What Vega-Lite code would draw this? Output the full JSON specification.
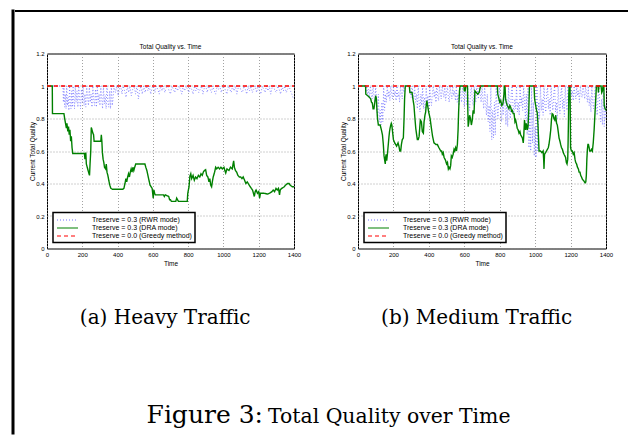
{
  "$schema": "https://vega.github.io/schema/vega-lite/v6.json",
  "padding": {"left": 11, "top": 9, "right": 0, "bottom": 0},
  "background": "white",
  "spacing": 0,
  "config": {
    "view": {"stroke": null},
    "font": "Liberation Sans",
    "axis": {"labelFont": "Liberation Sans", "labelFontSize": 6, "labelColor": "black", "titleFont": "Liberation Sans", "titleFontSize": 6.5, "titleFontWeight": "normal", "titleColor": "black", "domain": false, "ticks": false, "grid": true, "gridColor": "#8a8a8a", "gridDash": [1, 2], "gridWidth": 0.8, "labelFlush": false, "labelPadding": 3, "titlePadding": 3},
    "axisY": {"titlePadding": 0},
    "legend": {"title": null, "orient": "bottom-left", "offset": 6, "padding": 3, "fillColor": "white", "strokeColor": "black", "labelFont": "Liberation Sans", "labelFontSize": 7, "labelColor": "black", "labelAlign": "left", "symbolType": "M-1,0H5", "symbolSize": 49, "symbolStrokeWidth": 1.2, "labelOffset": 27, "rowPadding": 0},
    "title": {"fontWeight": "normal", "color": "black"}
  },
  "datasets": {
    "heavy": [
      {"t":0,"q":1,"s":"r"},{"t":90,"q":1,"s":"r"},{"t":93,"q":0.9,"s":"r"},{"t":96,"q":1,"s":"r"},{"t":100,"q":0.87,"s":"r"},{"t":104,"q":0.95,"s":"r"},{"t":108,"q":0.86,"s":"r"},{"t":112,"q":1,"s":"r"},{"t":116,"q":0.88,"s":"r"},{"t":120,"q":0.93,"s":"r"},{"t":124,"q":0.85,"s":"r"},{"t":128,"q":1,"s":"r"},{"t":132,"q":0.9,"s":"r"},{"t":136,"q":0.86,"s":"r"},{"t":140,"q":0.97,"s":"r"},{"t":144,"q":0.87,"s":"r"},{"t":148,"q":1,"s":"r"},{"t":152,"q":0.91,"s":"r"},{"t":156,"q":0.86,"s":"r"},{"t":160,"q":1,"s":"r"},{"t":165,"q":0.9,"s":"r"},{"t":170,"q":0.97,"s":"r"},{"t":175,"q":0.87,"s":"r"},{"t":180,"q":1,"s":"r"},{"t":185,"q":0.92,"s":"r"},{"t":190,"q":0.86,"s":"r"},{"t":195,"q":0.98,"s":"r"},{"t":200,"q":0.9,"s":"r"},{"t":205,"q":1,"s":"r"},{"t":210,"q":0.88,"s":"r"},{"t":215,"q":0.95,"s":"r"},{"t":220,"q":0.87,"s":"r"},{"t":225,"q":1,"s":"r"},{"t":230,"q":0.93,"s":"r"},{"t":235,"q":0.88,"s":"r"},{"t":240,"q":1,"s":"r"},{"t":245,"q":0.9,"s":"r"},{"t":250,"q":0.95,"s":"r"},{"t":255,"q":0.87,"s":"r"},{"t":260,"q":1,"s":"r"},{"t":265,"q":0.91,"s":"r"},{"t":270,"q":0.88,"s":"r"},{"t":275,"q":0.98,"s":"r"},{"t":280,"q":0.87,"s":"r"},{"t":285,"q":1,"s":"r"},{"t":290,"q":0.9,"s":"r"},{"t":295,"q":0.95,"s":"r"},{"t":300,"q":0.88,"s":"r"},{"t":305,"q":1,"s":"r"},{"t":310,"q":0.92,"s":"r"},{"t":315,"q":0.86,"s":"r"},{"t":320,"q":1,"s":"r"},{"t":325,"q":0.89,"s":"r"},{"t":330,"q":0.94,"s":"r"},{"t":335,"q":0.86,"s":"r"},{"t":340,"q":1,"s":"r"},{"t":345,"q":0.9,"s":"r"},{"t":350,"q":0.87,"s":"r"},{"t":355,"q":0.97,"s":"r"},{"t":360,"q":0.86,"s":"r"},{"t":365,"q":1,"s":"r"},{"t":370,"q":0.88,"s":"r"},{"t":375,"q":0.93,"s":"r"},{"t":380,"q":1,"s":"r"},{"t":388,"q":0.96,"s":"r"},{"t":395,"q":1,"s":"r"},{"t":403,"q":0.94,"s":"r"},{"t":410,"q":0.98,"s":"r"},{"t":418,"q":1,"s":"r"},{"t":425,"q":0.95,"s":"r"},{"t":432,"q":1,"s":"r"},{"t":440,"q":0.97,"s":"r"},{"t":448,"q":0.93,"s":"r"},{"t":455,"q":1,"s":"r"},{"t":463,"q":0.96,"s":"r"},{"t":470,"q":1,"s":"r"},{"t":478,"q":0.94,"s":"r"},{"t":486,"q":0.98,"s":"r"},{"t":494,"q":1,"s":"r"},{"t":502,"q":0.95,"s":"r"},{"t":510,"q":1,"s":"r"},{"t":518,"q":0.92,"s":"r"},{"t":525,"q":0.97,"s":"r"},{"t":532,"q":1,"s":"r"},{"t":540,"q":0.95,"s":"r"},{"t":548,"q":1,"s":"r"},{"t":556,"q":0.96,"s":"r"},{"t":564,"q":1,"s":"r"},{"t":572,"q":0.97,"s":"r"},{"t":580,"q":1,"s":"r"},{"t":588,"q":0.95,"s":"r"},{"t":596,"q":0.99,"s":"r"},{"t":604,"q":1,"s":"r"},{"t":612,"q":0.96,"s":"r"},{"t":620,"q":1,"s":"r"},{"t":628,"q":0.98,"s":"r"},{"t":636,"q":0.95,"s":"r"},{"t":644,"q":1,"s":"r"},{"t":652,"q":0.97,"s":"r"},{"t":660,"q":1,"s":"r"},{"t":668,"q":0.96,"s":"r"},{"t":676,"q":0.99,"s":"r"},{"t":684,"q":1,"s":"r"},{"t":692,"q":0.97,"s":"r"},{"t":700,"q":0.95,"s":"r"},{"t":708,"q":1,"s":"r"},{"t":716,"q":0.98,"s":"r"},{"t":724,"q":0.96,"s":"r"},{"t":732,"q":1,"s":"r"},{"t":740,"q":0.97,"s":"r"},{"t":748,"q":1,"s":"r"},{"t":756,"q":0.98,"s":"r"},{"t":764,"q":0.95,"s":"r"},{"t":772,"q":1,"s":"r"},{"t":780,"q":0.97,"s":"r"},{"t":788,"q":1,"s":"r"},{"t":796,"q":0.98,"s":"r"},{"t":804,"q":0.96,"s":"r"},{"t":812,"q":1,"s":"r"},{"t":820,"q":0.98,"s":"r"},{"t":828,"q":0.95,"s":"r"},{"t":836,"q":1,"s":"r"},{"t":844,"q":0.97,"s":"r"},{"t":852,"q":1,"s":"r"},{"t":860,"q":0.96,"s":"r"},{"t":868,"q":0.98,"s":"r"},{"t":876,"q":1,"s":"r"},{"t":884,"q":0.95,"s":"r"},{"t":892,"q":0.99,"s":"r"},{"t":900,"q":1,"s":"r"},{"t":908,"q":0.96,"s":"r"},{"t":916,"q":1,"s":"r"},{"t":924,"q":0.98,"s":"r"},{"t":932,"q":0.96,"s":"r"},{"t":940,"q":1,"s":"r"},{"t":948,"q":0.97,"s":"r"},{"t":956,"q":0.95,"s":"r"},{"t":964,"q":1,"s":"r"},{"t":972,"q":0.98,"s":"r"},{"t":980,"q":1,"s":"r"},{"t":988,"q":0.96,"s":"r"},{"t":996,"q":0.99,"s":"r"},{"t":1004,"q":1,"s":"r"},{"t":1012,"q":0.97,"s":"r"},{"t":1020,"q":0.95,"s":"r"},{"t":1028,"q":1,"s":"r"},{"t":1036,"q":0.98,"s":"r"},{"t":1044,"q":0.96,"s":"r"},{"t":1052,"q":1,"s":"r"},{"t":1060,"q":0.97,"s":"r"},{"t":1068,"q":1,"s":"r"},{"t":1076,"q":0.95,"s":"r"},{"t":1084,"q":0.99,"s":"r"},{"t":1092,"q":1,"s":"r"},{"t":1100,"q":0.97,"s":"r"},{"t":1108,"q":0.96,"s":"r"},{"t":1116,"q":1,"s":"r"},{"t":1124,"q":0.98,"s":"r"},{"t":1132,"q":0.95,"s":"r"},{"t":1140,"q":1,"s":"r"},{"t":1148,"q":0.97,"s":"r"},{"t":1156,"q":1,"s":"r"},{"t":1164,"q":0.96,"s":"r"},{"t":1172,"q":0.98,"s":"r"},{"t":1180,"q":1,"s":"r"},{"t":1188,"q":0.96,"s":"r"},{"t":1196,"q":1,"s":"r"},{"t":1204,"q":0.97,"s":"r"},{"t":1212,"q":0.95,"s":"r"},{"t":1220,"q":1,"s":"r"},{"t":1228,"q":0.98,"s":"r"},{"t":1236,"q":0.96,"s":"r"},{"t":1244,"q":1,"s":"r"},{"t":1252,"q":0.97,"s":"r"},{"t":1260,"q":1,"s":"r"},{"t":1268,"q":0.95,"s":"r"},{"t":1276,"q":0.99,"s":"r"},{"t":1284,"q":1,"s":"r"},{"t":1292,"q":0.97,"s":"r"},{"t":1300,"q":0.96,"s":"r"},{"t":1308,"q":1,"s":"r"},{"t":1316,"q":0.98,"s":"r"},{"t":1324,"q":0.95,"s":"r"},{"t":1332,"q":1,"s":"r"},{"t":1340,"q":0.97,"s":"r"},{"t":1348,"q":1,"s":"r"},{"t":1356,"q":0.96,"s":"r"},{"t":1364,"q":0.98,"s":"r"},{"t":1372,"q":1,"s":"r"},{"t":1380,"q":0.97,"s":"r"},{"t":1388,"q":0.95,"s":"r"},{"t":1394,"q":0.93,"s":"r"},{"t":1400,"q":0.92,"s":"r"},
      {"t":0,"q":1,"s":"d"},{"t":30,"q":1,"s":"d"},{"t":31,"q":0.83,"s":"d"},{"t":96,"q":0.83,"s":"d"},{"t":100,"q":0.8,"s":"d"},{"t":105,"q":0.77,"s":"d"},{"t":110,"q":0.74,"s":"d"},{"t":113,"q":0.77,"s":"d"},{"t":118,"q":0.72,"s":"d"},{"t":122,"q":0.75,"s":"d"},{"t":126,"q":0.7,"s":"d"},{"t":130,"q":0.73,"s":"d"},{"t":134,"q":0.66,"s":"d"},{"t":138,"q":0.69,"s":"d"},{"t":142,"q":0.62,"s":"d"},{"t":146,"q":0.585,"s":"d"},{"t":212,"q":0.585,"s":"d"},{"t":215,"q":0.55,"s":"d"},{"t":220,"q":0.59,"s":"d"},{"t":223,"q":0.52,"s":"d"},{"t":228,"q":0.5,"s":"d"},{"t":233,"q":0.48,"s":"d"},{"t":238,"q":0.46,"s":"d"},{"t":241,"q":0.45,"s":"d"},{"t":244,"q":0.52,"s":"d"},{"t":248,"q":0.6,"s":"d"},{"t":251,"q":0.745,"s":"d"},{"t":255,"q":0.73,"s":"d"},{"t":260,"q":0.71,"s":"d"},{"t":264,"q":0.7,"s":"d"},{"t":267,"q":0.66,"s":"d"},{"t":305,"q":0.66,"s":"d"},{"t":308,"q":0.7,"s":"d"},{"t":311,"q":0.66,"s":"d"},{"t":314,"q":0.59,"s":"d"},{"t":318,"q":0.55,"s":"d"},{"t":322,"q":0.53,"s":"d"},{"t":326,"q":0.5,"s":"d"},{"t":332,"q":0.49,"s":"d"},{"t":336,"q":0.52,"s":"d"},{"t":340,"q":0.47,"s":"d"},{"t":345,"q":0.45,"s":"d"},{"t":350,"q":0.42,"s":"d"},{"t":356,"q":0.39,"s":"d"},{"t":362,"q":0.37,"s":"d"},{"t":370,"q":0.365,"s":"d"},{"t":430,"q":0.365,"s":"d"},{"t":436,"q":0.37,"s":"d"},{"t":442,"q":0.4,"s":"d"},{"t":447,"q":0.43,"s":"d"},{"t":452,"q":0.41,"s":"d"},{"t":457,"q":0.44,"s":"d"},{"t":462,"q":0.46,"s":"d"},{"t":467,"q":0.44,"s":"d"},{"t":472,"q":0.47,"s":"d"},{"t":477,"q":0.49,"s":"d"},{"t":482,"q":0.47,"s":"d"},{"t":487,"q":0.5,"s":"d"},{"t":492,"q":0.48,"s":"d"},{"t":497,"q":0.5,"s":"d"},{"t":503,"q":0.52,"s":"d"},{"t":555,"q":0.52,"s":"d"},{"t":560,"q":0.5,"s":"d"},{"t":566,"q":0.48,"s":"d"},{"t":572,"q":0.45,"s":"d"},{"t":578,"q":0.42,"s":"d"},{"t":584,"q":0.39,"s":"d"},{"t":590,"q":0.38,"s":"d"},{"t":596,"q":0.37,"s":"d"},{"t":602,"q":0.31,"s":"d"},{"t":606,"q":0.36,"s":"d"},{"t":610,"q":0.34,"s":"d"},{"t":614,"q":0.33,"s":"d"},{"t":660,"q":0.33,"s":"d"},{"t":665,"q":0.32,"s":"d"},{"t":670,"q":0.33,"s":"d"},{"t":690,"q":0.32,"s":"d"},{"t":695,"q":0.3,"s":"d"},{"t":700,"q":0.3,"s":"d"},{"t":705,"q":0.29,"s":"d"},{"t":730,"q":0.29,"s":"d"},{"t":735,"q":0.31,"s":"d"},{"t":740,"q":0.3,"s":"d"},{"t":745,"q":0.29,"s":"d"},{"t":795,"q":0.29,"s":"d"},{"t":798,"q":0.34,"s":"d"},{"t":805,"q":0.38,"s":"d"},{"t":810,"q":0.445,"s":"d"},{"t":815,"q":0.46,"s":"d"},{"t":820,"q":0.43,"s":"d"},{"t":828,"q":0.45,"s":"d"},{"t":835,"q":0.42,"s":"d"},{"t":842,"q":0.44,"s":"d"},{"t":850,"q":0.43,"s":"d"},{"t":858,"q":0.45,"s":"d"},{"t":866,"q":0.44,"s":"d"},{"t":873,"q":0.46,"s":"d"},{"t":880,"q":0.45,"s":"d"},{"t":886,"q":0.47,"s":"d"},{"t":892,"q":0.48,"s":"d"},{"t":899,"q":0.485,"s":"d"},{"t":905,"q":0.45,"s":"d"},{"t":912,"q":0.44,"s":"d"},{"t":918,"q":0.41,"s":"d"},{"t":923,"q":0.43,"s":"d"},{"t":928,"q":0.39,"s":"d"},{"t":933,"q":0.38,"s":"d"},{"t":937,"q":0.41,"s":"d"},{"t":942,"q":0.44,"s":"d"},{"t":950,"q":0.47,"s":"d"},{"t":956,"q":0.5,"s":"d"},{"t":962,"q":0.49,"s":"d"},{"t":970,"q":0.5,"s":"d"},{"t":978,"q":0.49,"s":"d"},{"t":986,"q":0.5,"s":"d"},{"t":994,"q":0.49,"s":"d"},{"t":1003,"q":0.5,"s":"d"},{"t":1008,"q":0.48,"s":"d"},{"t":1013,"q":0.465,"s":"d"},{"t":1020,"q":0.49,"s":"d"},{"t":1031,"q":0.48,"s":"d"},{"t":1040,"q":0.5,"s":"d"},{"t":1050,"q":0.49,"s":"d"},{"t":1058,"q":0.54,"s":"d"},{"t":1062,"q":0.5,"s":"d"},{"t":1068,"q":0.48,"s":"d"},{"t":1075,"q":0.47,"s":"d"},{"t":1082,"q":0.45,"s":"d"},{"t":1090,"q":0.44,"s":"d"},{"t":1098,"q":0.44,"s":"d"},{"t":1105,"q":0.43,"s":"d"},{"t":1112,"q":0.44,"s":"d"},{"t":1120,"q":0.42,"s":"d"},{"t":1127,"q":0.4,"s":"d"},{"t":1135,"q":0.41,"s":"d"},{"t":1146,"q":0.39,"s":"d"},{"t":1152,"q":0.38,"s":"d"},{"t":1158,"q":0.37,"s":"d"},{"t":1165,"q":0.36,"s":"d"},{"t":1170,"q":0.34,"s":"d"},{"t":1175,"q":0.32,"s":"d"},{"t":1180,"q":0.35,"s":"d"},{"t":1185,"q":0.36,"s":"d"},{"t":1193,"q":0.34,"s":"d"},{"t":1200,"q":0.35,"s":"d"},{"t":1205,"q":0.31,"s":"d"},{"t":1210,"q":0.34,"s":"d"},{"t":1230,"q":0.34,"s":"d"},{"t":1250,"q":0.335,"s":"d"},{"t":1262,"q":0.34,"s":"d"},{"t":1275,"q":0.35,"s":"d"},{"t":1282,"q":0.36,"s":"d"},{"t":1290,"q":0.35,"s":"d"},{"t":1298,"q":0.37,"s":"d"},{"t":1305,"q":0.36,"s":"d"},{"t":1312,"q":0.37,"s":"d"},{"t":1318,"q":0.33,"s":"d"},{"t":1322,"q":0.36,"s":"d"},{"t":1330,"q":0.37,"s":"d"},{"t":1345,"q":0.38,"s":"d"},{"t":1352,"q":0.39,"s":"d"},{"t":1364,"q":0.4,"s":"d"},{"t":1372,"q":0.4,"s":"d"},{"t":1378,"q":0.39,"s":"d"},{"t":1390,"q":0.38,"s":"d"},{"t":1400,"q":0.38,"s":"d"},
      {"t":0,"q":1,"s":"g"},{"t":1400,"q":1,"s":"g"}
    ],
    "medium": [
      {"t":0,"q":1,"s":"r"},{"t":40,"q":1,"s":"r"},{"t":45,"q":0.96,"s":"r"},{"t":50,"q":1,"s":"r"},{"t":55,"q":0.94,"s":"r"},{"t":60,"q":0.98,"s":"r"},{"t":65,"q":0.93,"s":"r"},{"t":70,"q":1,"s":"r"},{"t":75,"q":0.95,"s":"r"},{"t":80,"q":0.92,"s":"r"},{"t":85,"q":1,"s":"r"},{"t":90,"q":0.94,"s":"r"},{"t":95,"q":0.9,"s":"r"},{"t":100,"q":1,"s":"r"},{"t":105,"q":0.88,"s":"r"},{"t":110,"q":0.82,"s":"r"},{"t":115,"q":0.95,"s":"r"},{"t":120,"q":0.78,"s":"r"},{"t":125,"q":0.85,"s":"r"},{"t":130,"q":0.76,"s":"r"},{"t":135,"q":0.9,"s":"r"},{"t":140,"q":0.78,"s":"r"},{"t":145,"q":1,"s":"r"},{"t":150,"q":0.85,"s":"r"},{"t":155,"q":0.95,"s":"r"},{"t":160,"q":0.9,"s":"r"},{"t":165,"q":1,"s":"r"},{"t":170,"q":0.93,"s":"r"},{"t":175,"q":0.97,"s":"r"},{"t":180,"q":0.91,"s":"r"},{"t":185,"q":1,"s":"r"},{"t":190,"q":0.95,"s":"r"},{"t":195,"q":0.92,"s":"r"},{"t":200,"q":1,"s":"r"},{"t":205,"q":0.94,"s":"r"},{"t":210,"q":0.97,"s":"r"},{"t":215,"q":0.91,"s":"r"},{"t":220,"q":1,"s":"r"},{"t":225,"q":0.93,"s":"r"},{"t":230,"q":0.96,"s":"r"},{"t":235,"q":0.9,"s":"r"},{"t":240,"q":1,"s":"r"},{"t":245,"q":0.95,"s":"r"},{"t":250,"q":0.92,"s":"r"},{"t":255,"q":1,"s":"r"},{"t":260,"q":0.96,"s":"r"},{"t":265,"q":1,"s":"r"},{"t":290,"q":1,"s":"r"},{"t":295,"q":0.96,"s":"r"},{"t":300,"q":0.93,"s":"r"},{"t":305,"q":1,"s":"r"},{"t":310,"q":0.95,"s":"r"},{"t":315,"q":0.92,"s":"r"},{"t":320,"q":1,"s":"r"},{"t":325,"q":0.9,"s":"r"},{"t":330,"q":0.95,"s":"r"},{"t":335,"q":0.86,"s":"r"},{"t":340,"q":1,"s":"r"},{"t":345,"q":0.9,"s":"r"},{"t":350,"q":0.84,"s":"r"},{"t":355,"q":0.95,"s":"r"},{"t":360,"q":0.88,"s":"r"},{"t":365,"q":1,"s":"r"},{"t":370,"q":0.86,"s":"r"},{"t":375,"q":0.93,"s":"r"},{"t":380,"q":0.85,"s":"r"},{"t":385,"q":1,"s":"r"},{"t":390,"q":0.9,"s":"r"},{"t":395,"q":0.94,"s":"r"},{"t":400,"q":0.86,"s":"r"},{"t":405,"q":1,"s":"r"},{"t":410,"q":0.92,"s":"r"},{"t":415,"q":0.88,"s":"r"},{"t":420,"q":0.96,"s":"r"},{"t":425,"q":1,"s":"r"},{"t":430,"q":0.93,"s":"r"},{"t":435,"q":0.97,"s":"r"},{"t":440,"q":0.9,"s":"r"},{"t":445,"q":1,"s":"r"},{"t":450,"q":0.94,"s":"r"},{"t":455,"q":0.91,"s":"r"},{"t":460,"q":1,"s":"r"},{"t":465,"q":0.95,"s":"r"},{"t":470,"q":0.92,"s":"r"},{"t":475,"q":1,"s":"r"},{"t":480,"q":0.96,"s":"r"},{"t":485,"q":0.93,"s":"r"},{"t":490,"q":1,"s":"r"},{"t":495,"q":0.91,"s":"r"},{"t":500,"q":0.96,"s":"r"},{"t":505,"q":1,"s":"r"},{"t":510,"q":0.93,"s":"r"},{"t":515,"q":0.9,"s":"r"},{"t":520,"q":1,"s":"r"},{"t":525,"q":0.95,"s":"r"},{"t":530,"q":0.92,"s":"r"},{"t":535,"q":1,"s":"r"},{"t":540,"q":0.94,"s":"r"},{"t":545,"q":0.97,"s":"r"},{"t":550,"q":0.91,"s":"r"},{"t":555,"q":1,"s":"r"},{"t":560,"q":0.9,"s":"r"},{"t":565,"q":0.95,"s":"r"},{"t":570,"q":0.88,"s":"r"},{"t":575,"q":1,"s":"r"},{"t":580,"q":0.93,"s":"r"},{"t":585,"q":0.9,"s":"r"},{"t":590,"q":1,"s":"r"},{"t":595,"q":0.95,"s":"r"},{"t":600,"q":0.87,"s":"r"},{"t":605,"q":1,"s":"r"},{"t":610,"q":0.93,"s":"r"},{"t":615,"q":0.88,"s":"r"},{"t":620,"q":1,"s":"r"},{"t":625,"q":0.9,"s":"r"},{"t":630,"q":0.85,"s":"r"},{"t":635,"q":0.95,"s":"r"},{"t":640,"q":1,"s":"r"},{"t":645,"q":0.92,"s":"r"},{"t":650,"q":0.88,"s":"r"},{"t":655,"q":1,"s":"r"},{"t":660,"q":0.94,"s":"r"},{"t":665,"q":0.9,"s":"r"},{"t":670,"q":1,"s":"r"},{"t":675,"q":0.96,"s":"r"},{"t":680,"q":0.92,"s":"r"},{"t":685,"q":1,"s":"r"},{"t":690,"q":0.95,"s":"r"},{"t":695,"q":0.9,"s":"r"},{"t":700,"q":1,"s":"r"},{"t":705,"q":0.92,"s":"r"},{"t":710,"q":0.86,"s":"r"},{"t":715,"q":1,"s":"r"},{"t":720,"q":0.9,"s":"r"},{"t":725,"q":0.82,"s":"r"},{"t":730,"q":0.95,"s":"r"},{"t":735,"q":0.78,"s":"r"},{"t":740,"q":0.88,"s":"r"},{"t":745,"q":0.72,"s":"r"},{"t":750,"q":1,"s":"r"},{"t":755,"q":0.67,"s":"r"},{"t":760,"q":0.85,"s":"r"},{"t":765,"q":0.68,"s":"r"},{"t":770,"q":0.9,"s":"r"},{"t":775,"q":0.7,"s":"r"},{"t":780,"q":1,"s":"r"},{"t":785,"q":0.88,"s":"r"},{"t":790,"q":0.8,"s":"r"},{"t":795,"q":0.93,"s":"r"},{"t":800,"q":1,"s":"r"},{"t":805,"q":0.85,"s":"r"},{"t":810,"q":0.78,"s":"r"},{"t":815,"q":0.9,"s":"r"},{"t":820,"q":0.82,"s":"r"},{"t":825,"q":1,"s":"r"},{"t":830,"q":0.88,"s":"r"},{"t":835,"q":0.76,"s":"r"},{"t":840,"q":0.92,"s":"r"},{"t":845,"q":0.75,"s":"r"},{"t":850,"q":1,"s":"r"},{"t":855,"q":0.85,"s":"r"},{"t":860,"q":0.8,"s":"r"},{"t":865,"q":0.95,"s":"r"},{"t":870,"q":1,"s":"r"},{"t":875,"q":0.88,"s":"r"},{"t":880,"q":0.83,"s":"r"},{"t":885,"q":0.92,"s":"r"},{"t":890,"q":0.86,"s":"r"},{"t":895,"q":1,"s":"r"},{"t":900,"q":0.84,"s":"r"},{"t":905,"q":0.9,"s":"r"},{"t":910,"q":0.82,"s":"r"},{"t":915,"q":1,"s":"r"},{"t":920,"q":0.88,"s":"r"},{"t":925,"q":0.93,"s":"r"},{"t":930,"q":0.85,"s":"r"},{"t":935,"q":1,"s":"r"},{"t":940,"q":0.9,"s":"r"},{"t":945,"q":0.8,"s":"r"},{"t":950,"q":0.95,"s":"r"},{"t":955,"q":0.7,"s":"r"},{"t":960,"q":1,"s":"r"},{"t":965,"q":0.62,"s":"r"},{"t":970,"q":0.85,"s":"r"},{"t":975,"q":0.6,"s":"r"},{"t":980,"q":1,"s":"r"},{"t":985,"q":0.65,"s":"r"},{"t":990,"q":0.9,"s":"r"},{"t":995,"q":0.57,"s":"r"},{"t":1000,"q":0.75,"s":"r"},{"t":1005,"q":0.56,"s":"r"},{"t":1010,"q":1,"s":"r"},{"t":1015,"q":0.6,"s":"r"},{"t":1020,"q":0.9,"s":"r"},{"t":1025,"q":0.8,"s":"r"},{"t":1030,"q":1,"s":"r"},{"t":1035,"q":0.85,"s":"r"},{"t":1040,"q":0.92,"s":"r"},{"t":1045,"q":0.82,"s":"r"},{"t":1050,"q":1,"s":"r"},{"t":1055,"q":0.88,"s":"r"},{"t":1060,"q":0.84,"s":"r"},{"t":1065,"q":0.95,"s":"r"},{"t":1070,"q":1,"s":"r"},{"t":1075,"q":0.86,"s":"r"},{"t":1080,"q":0.92,"s":"r"},{"t":1085,"q":0.82,"s":"r"},{"t":1090,"q":1,"s":"r"},{"t":1095,"q":0.9,"s":"r"},{"t":1100,"q":0.85,"s":"r"},{"t":1105,"q":0.95,"s":"r"},{"t":1110,"q":1,"s":"r"},{"t":1115,"q":0.84,"s":"r"},{"t":1120,"q":0.9,"s":"r"},{"t":1125,"q":0.8,"s":"r"},{"t":1130,"q":1,"s":"r"},{"t":1135,"q":0.88,"s":"r"},{"t":1140,"q":0.83,"s":"r"},{"t":1145,"q":0.95,"s":"r"},{"t":1150,"q":1,"s":"r"},{"t":1155,"q":0.86,"s":"r"},{"t":1160,"q":0.92,"s":"r"},{"t":1165,"q":0.81,"s":"r"},{"t":1170,"q":1,"s":"r"},{"t":1175,"q":0.9,"s":"r"},{"t":1180,"q":0.85,"s":"r"},{"t":1185,"q":1,"s":"r"},{"t":1190,"q":0.93,"s":"r"},{"t":1195,"q":0.9,"s":"r"},{"t":1200,"q":1,"s":"r"},{"t":1205,"q":0.94,"s":"r"},{"t":1210,"q":0.97,"s":"r"},{"t":1215,"q":0.91,"s":"r"},{"t":1220,"q":1,"s":"r"},{"t":1225,"q":0.95,"s":"r"},{"t":1230,"q":0.92,"s":"r"},{"t":1235,"q":1,"s":"r"},{"t":1240,"q":0.94,"s":"r"},{"t":1245,"q":0.97,"s":"r"},{"t":1250,"q":0.9,"s":"r"},{"t":1255,"q":1,"s":"r"},{"t":1260,"q":0.95,"s":"r"},{"t":1265,"q":0.93,"s":"r"},{"t":1270,"q":1,"s":"r"},{"t":1275,"q":0.96,"s":"r"},{"t":1280,"q":0.92,"s":"r"},{"t":1285,"q":1,"s":"r"},{"t":1290,"q":0.95,"s":"r"},{"t":1295,"q":0.9,"s":"r"},{"t":1300,"q":1,"s":"r"},{"t":1305,"q":0.88,"s":"r"},{"t":1310,"q":0.93,"s":"r"},{"t":1315,"q":0.84,"s":"r"},{"t":1320,"q":1,"s":"r"},{"t":1325,"q":0.9,"s":"r"},{"t":1330,"q":0.86,"s":"r"},{"t":1335,"q":0.95,"s":"r"},{"t":1340,"q":1,"s":"r"},{"t":1345,"q":0.9,"s":"r"},{"t":1350,"q":0.82,"s":"r"},{"t":1355,"q":0.93,"s":"r"},{"t":1360,"q":1,"s":"r"},{"t":1365,"q":0.85,"s":"r"},{"t":1370,"q":0.78,"s":"r"},{"t":1375,"q":0.92,"s":"r"},{"t":1380,"q":0.76,"s":"r"},{"t":1385,"q":1,"s":"r"},{"t":1390,"q":0.75,"s":"r"},{"t":1395,"q":0.88,"s":"r"},{"t":1400,"q":0.8,"s":"r"},
      {"t":0,"q":1,"s":"d"},{"t":43,"q":1,"s":"d"},{"t":44,"q":0.95,"s":"d"},{"t":55,"q":0.94,"s":"d"},{"t":65,"q":0.93,"s":"d"},{"t":72,"q":0.92,"s":"d"},{"t":76,"q":0.9,"s":"d"},{"t":81,"q":0.895,"s":"d"},{"t":85,"q":0.86,"s":"d"},{"t":90,"q":0.86,"s":"d"},{"t":95,"q":0.9,"s":"d"},{"t":100,"q":0.94,"s":"d"},{"t":104,"q":0.92,"s":"d"},{"t":107,"q":0.85,"s":"d"},{"t":110,"q":0.8,"s":"d"},{"t":115,"q":0.76,"s":"d"},{"t":125,"q":0.76,"s":"d"},{"t":132,"q":0.73,"s":"d"},{"t":138,"q":0.7,"s":"d"},{"t":143,"q":0.64,"s":"d"},{"t":147,"q":0.57,"s":"d"},{"t":151,"q":0.54,"s":"d"},{"t":154,"q":0.52,"s":"d"},{"t":156,"q":0.56,"s":"d"},{"t":159,"q":0.58,"s":"d"},{"t":162,"q":0.54,"s":"d"},{"t":166,"q":0.58,"s":"d"},{"t":171,"q":0.64,"s":"d"},{"t":175,"q":0.69,"s":"d"},{"t":178,"q":0.72,"s":"d"},{"t":181,"q":0.74,"s":"d"},{"t":185,"q":0.76,"s":"d"},{"t":188,"q":0.77,"s":"d"},{"t":191,"q":0.76,"s":"d"},{"t":194,"q":0.73,"s":"d"},{"t":197,"q":0.7,"s":"d"},{"t":200,"q":0.67,"s":"d"},{"t":207,"q":0.65,"s":"d"},{"t":213,"q":0.64,"s":"d"},{"t":218,"q":0.63,"s":"d"},{"t":222,"q":0.64,"s":"d"},{"t":226,"q":0.65,"s":"d"},{"t":231,"q":0.63,"s":"d"},{"t":236,"q":0.6,"s":"d"},{"t":241,"q":0.6,"s":"d"},{"t":245,"q":0.64,"s":"d"},{"t":250,"q":0.67,"s":"d"},{"t":256,"q":0.68,"s":"d"},{"t":260,"q":0.8,"s":"d"},{"t":263,"q":0.92,"s":"d"},{"t":267,"q":1,"s":"d"},{"t":290,"q":1,"s":"d"},{"t":293,"q":0.96,"s":"d"},{"t":305,"q":0.96,"s":"d"},{"t":310,"q":0.92,"s":"d"},{"t":316,"q":0.88,"s":"d"},{"t":320,"q":0.82,"s":"d"},{"t":326,"q":0.74,"s":"d"},{"t":331,"q":0.7,"s":"d"},{"t":335,"q":0.67,"s":"d"},{"t":340,"q":0.67,"s":"d"},{"t":345,"q":0.69,"s":"d"},{"t":349,"q":0.75,"s":"d"},{"t":352,"q":0.79,"s":"d"},{"t":358,"q":0.78,"s":"d"},{"t":363,"q":0.72,"s":"d"},{"t":369,"q":0.71,"s":"d"},{"t":373,"q":0.78,"s":"d"},{"t":378,"q":0.82,"s":"d"},{"t":382,"q":0.84,"s":"d"},{"t":386,"q":0.89,"s":"d"},{"t":389,"q":0.91,"s":"d"},{"t":393,"q":0.88,"s":"d"},{"t":399,"q":0.84,"s":"d"},{"t":403,"q":0.82,"s":"d"},{"t":407,"q":0.8,"s":"d"},{"t":412,"q":0.76,"s":"d"},{"t":417,"q":0.72,"s":"d"},{"t":421,"q":0.69,"s":"d"},{"t":429,"q":0.65,"s":"d"},{"t":440,"q":0.64,"s":"d"},{"t":448,"q":0.64,"s":"d"},{"t":457,"q":0.62,"s":"d"},{"t":467,"q":0.6,"s":"d"},{"t":472,"q":0.6,"s":"d"},{"t":476,"q":0.58,"s":"d"},{"t":481,"q":0.59,"s":"d"},{"t":486,"q":0.56,"s":"d"},{"t":491,"q":0.55,"s":"d"},{"t":495,"q":0.54,"s":"d"},{"t":500,"q":0.52,"s":"d"},{"t":505,"q":0.53,"s":"d"},{"t":510,"q":0.49,"s":"d"},{"t":514,"q":0.5,"s":"d"},{"t":519,"q":0.49,"s":"d"},{"t":523,"q":0.51,"s":"d"},{"t":527,"q":0.57,"s":"d"},{"t":532,"q":0.56,"s":"d"},{"t":537,"q":0.58,"s":"d"},{"t":542,"q":0.61,"s":"d"},{"t":546,"q":0.6,"s":"d"},{"t":551,"q":0.62,"s":"d"},{"t":556,"q":0.6,"s":"d"},{"t":561,"q":0.64,"s":"d"},{"t":565,"q":0.73,"s":"d"},{"t":568,"q":0.84,"s":"d"},{"t":573,"q":0.97,"s":"d"},{"t":576,"q":1,"s":"d"},{"t":598,"q":1,"s":"d"},{"t":600,"q":0.97,"s":"d"},{"t":605,"q":0.97,"s":"d"},{"t":609,"q":1,"s":"d"},{"t":618,"q":1,"s":"d"},{"t":620,"q":0.85,"s":"d"},{"t":622,"q":0.75,"s":"d"},{"t":626,"q":0.78,"s":"d"},{"t":630,"q":0.82,"s":"d"},{"t":635,"q":0.8,"s":"d"},{"t":640,"q":0.76,"s":"d"},{"t":645,"q":0.79,"s":"d"},{"t":650,"q":0.85,"s":"d"},{"t":655,"q":0.83,"s":"d"},{"t":660,"q":0.97,"s":"d"},{"t":668,"q":0.96,"s":"d"},{"t":676,"q":0.95,"s":"d"},{"t":684,"q":0.96,"s":"d"},{"t":692,"q":1,"s":"d"},{"t":787,"q":1,"s":"d"},{"t":789,"q":0.95,"s":"d"},{"t":794,"q":0.93,"s":"d"},{"t":800,"q":0.9,"s":"d"},{"t":806,"q":0.91,"s":"d"},{"t":812,"q":0.88,"s":"d"},{"t":818,"q":0.89,"s":"d"},{"t":824,"q":0.95,"s":"d"},{"t":826,"q":1,"s":"d"},{"t":830,"q":1,"s":"d"},{"t":833,"q":0.92,"s":"d"},{"t":837,"q":0.9,"s":"d"},{"t":843,"q":0.88,"s":"d"},{"t":848,"q":0.87,"s":"d"},{"t":852,"q":0.86,"s":"d"},{"t":857,"q":0.88,"s":"d"},{"t":862,"q":0.87,"s":"d"},{"t":867,"q":0.845,"s":"d"},{"t":871,"q":0.85,"s":"d"},{"t":876,"q":0.83,"s":"d"},{"t":881,"q":0.83,"s":"d"},{"t":886,"q":0.78,"s":"d"},{"t":890,"q":0.79,"s":"d"},{"t":894,"q":0.77,"s":"d"},{"t":899,"q":0.74,"s":"d"},{"t":904,"q":0.73,"s":"d"},{"t":909,"q":0.71,"s":"d"},{"t":914,"q":0.72,"s":"d"},{"t":918,"q":0.7,"s":"d"},{"t":923,"q":0.69,"s":"d"},{"t":928,"q":0.68,"s":"d"},{"t":933,"q":0.65,"s":"d"},{"t":936,"q":0.7,"s":"d"},{"t":940,"q":0.79,"s":"d"},{"t":943,"q":0.76,"s":"d"},{"t":946,"q":0.73,"s":"d"},{"t":949,"q":0.77,"s":"d"},{"t":952,"q":0.76,"s":"d"},{"t":956,"q":0.73,"s":"d"},{"t":960,"q":0.75,"s":"d"},{"t":964,"q":0.85,"s":"d"},{"t":968,"q":1,"s":"d"},{"t":994,"q":1,"s":"d"},{"t":997,"q":0.92,"s":"d"},{"t":1003,"q":0.88,"s":"d"},{"t":1008,"q":0.85,"s":"d"},{"t":1012,"q":0.835,"s":"d"},{"t":1016,"q":0.76,"s":"d"},{"t":1019,"q":0.68,"s":"d"},{"t":1022,"q":0.6,"s":"d"},{"t":1030,"q":0.6,"s":"d"},{"t":1038,"q":0.59,"s":"d"},{"t":1045,"q":0.6,"s":"d"},{"t":1048,"q":0.55,"s":"d"},{"t":1050,"q":0.49,"s":"d"},{"t":1053,"q":0.58,"s":"d"},{"t":1059,"q":0.59,"s":"d"},{"t":1064,"q":0.6,"s":"d"},{"t":1069,"q":0.61,"s":"d"},{"t":1074,"q":0.62,"s":"d"},{"t":1078,"q":0.64,"s":"d"},{"t":1083,"q":0.68,"s":"d"},{"t":1088,"q":0.73,"s":"d"},{"t":1092,"q":0.79,"s":"d"},{"t":1096,"q":0.83,"s":"d"},{"t":1101,"q":0.825,"s":"d"},{"t":1106,"q":0.8,"s":"d"},{"t":1111,"q":0.79,"s":"d"},{"t":1116,"q":0.82,"s":"d"},{"t":1121,"q":0.77,"s":"d"},{"t":1125,"q":0.76,"s":"d"},{"t":1129,"q":0.73,"s":"d"},{"t":1135,"q":0.68,"s":"d"},{"t":1140,"q":0.66,"s":"d"},{"t":1144,"q":0.64,"s":"d"},{"t":1149,"q":0.62,"s":"d"},{"t":1154,"q":0.61,"s":"d"},{"t":1159,"q":0.59,"s":"d"},{"t":1163,"q":0.58,"s":"d"},{"t":1168,"q":0.57,"s":"d"},{"t":1172,"q":0.56,"s":"d"},{"t":1176,"q":0.53,"s":"d"},{"t":1180,"q":0.52,"s":"d"},{"t":1184,"q":0.55,"s":"d"},{"t":1186,"q":0.65,"s":"d"},{"t":1188,"q":0.78,"s":"d"},{"t":1190,"q":0.95,"s":"d"},{"t":1192,"q":1,"s":"d"},{"t":1197,"q":1,"s":"d"},{"t":1200,"q":0.62,"s":"d"},{"t":1205,"q":0.6,"s":"d"},{"t":1210,"q":0.6,"s":"d"},{"t":1215,"q":0.58,"s":"d"},{"t":1220,"q":0.59,"s":"d"},{"t":1225,"q":0.55,"s":"d"},{"t":1229,"q":0.53,"s":"d"},{"t":1234,"q":0.52,"s":"d"},{"t":1239,"q":0.5,"s":"d"},{"t":1244,"q":0.49,"s":"d"},{"t":1248,"q":0.47,"s":"d"},{"t":1253,"q":0.47,"s":"d"},{"t":1257,"q":0.45,"s":"d"},{"t":1262,"q":0.44,"s":"d"},{"t":1267,"q":0.425,"s":"d"},{"t":1272,"q":0.42,"s":"d"},{"t":1276,"q":0.414,"s":"d"},{"t":1282,"q":0.404,"s":"d"},{"t":1286,"q":0.41,"s":"d"},{"t":1289,"q":0.45,"s":"d"},{"t":1292,"q":0.55,"s":"d"},{"t":1295,"q":0.61,"s":"d"},{"t":1298,"q":0.64,"s":"d"},{"t":1301,"q":0.64,"s":"d"},{"t":1305,"q":0.62,"s":"d"},{"t":1308,"q":0.6,"s":"d"},{"t":1314,"q":0.6,"s":"d"},{"t":1318,"q":0.61,"s":"d"},{"t":1323,"q":0.6,"s":"d"},{"t":1328,"q":0.65,"s":"d"},{"t":1333,"q":0.73,"s":"d"},{"t":1338,"q":0.835,"s":"d"},{"t":1342,"q":0.92,"s":"d"},{"t":1346,"q":1,"s":"d"},{"t":1355,"q":1,"s":"d"},{"t":1357,"q":0.96,"s":"d"},{"t":1360,"q":1,"s":"d"},{"t":1372,"q":1,"s":"d"},{"t":1376,"q":0.96,"s":"d"},{"t":1380,"q":0.97,"s":"d"},{"t":1383,"q":1,"s":"d"},{"t":1388,"q":1,"s":"d"},{"t":1390,"q":0.88,"s":"d"},{"t":1395,"q":0.86,"s":"d"},{"t":1400,"q":0.85,"s":"d"},
      {"t":0,"q":1,"s":"g"},{"t":1400,"q":1,"s":"g"}
    ]
  },
  "hconcat": [
    {"width": 0.01, "height": 422, "view": {"stroke": "black", "strokeWidth": 3}, "data": {"values": []}, "mark": "point"},
    {
      "spacing": 30.5,
      "vconcat": [
        {"width": 613, "height": 0.01, "view": {"stroke": "black", "strokeWidth": 2}, "data": {"values": []}, "mark": "point"},
        {
          "spacing": 0,
          "hconcat": [
            {"width": 13, "height": 0.01, "data": {"values": []}, "mark": "point"},
            {
              "spacing": 38,
              "resolve": {"scale": {"color": "independent", "strokeDash": "independent"}, "legend": {"color": "independent", "strokeDash": "independent"}},
              "hconcat": [
                {
                  "title": {"text": "(a) Heavy Traffic", "orient": "bottom", "anchor": "middle", "offset": 40, "font": "DejaVu Serif", "fontSize": 20, "fontWeight": "normal", "color": "black"},
                  "resolve": {"scale": {"color": "independent", "strokeDash": "independent"}, "legend": {"color": "independent", "strokeDash": "independent"}},
                  "vconcat": [
                    {
                      "width": 247, "height": 195,
                      "view": {"stroke": "black", "strokeWidth": 1},
                      "title": {"text": "Total Quality vs. Time", "font": "Liberation Sans", "fontSize": 6.5, "fontWeight": "normal", "offset": 0, "anchor": "middle"},
                      "data": {"name": "heavy"},
                      "encoding": {
                        "x": {"field": "t", "type": "quantitative", "scale": {"domain": [0, 1400], "nice": false, "zero": false}, "axis": {"title": "Time", "values": [0, 200, 400, 600, 800, 1000, 1200, 1400], "format": "d"}},
                        "y": {"field": "q", "type": "quantitative", "scale": {"domain": [0, 1.2], "nice": false}, "axis": {"title": "Current Total Quality", "values": [0, 0.2, 0.4, 0.6, 0.8, 1, 1.2], "format": "~g"}},
                        "color": {"field": "s", "type": "nominal", "scale": {"domain": ["r", "d", "g"], "range": ["#7070ff", "#008000", "#ff0000"]},
                          "legend": {"labelExpr": "datum.value == 'r' ? 'Treserve = 0.3 (RWR mode)' : datum.value == 'd' ? 'Treserve = 0.3 (DRA mode)' : 'Treserve = 0.0 (Greedy method)'", "labelAlign": "left",
                            "encode": {"symbols": {"update": {"stroke": {"signal": "datum.value == 'r' ? '#7070ff' : datum.value == 'd' ? '#008000' : '#ff0000'"}, "fill": {"value": "transparent"}}}, "legend": {"update": {"strokeWidth": {"value": 1.5}}}}}},
                        "strokeDash": {"field": "s", "type": "nominal", "scale": {"domain": ["r", "d", "g"], "range": [[1, 2], [1, 0], [4, 3]]},
                          "legend": {"labelExpr": "datum.value == 'r' ? 'Treserve = 0.3 (RWR mode)' : datum.value == 'd' ? 'Treserve = 0.3 (DRA mode)' : 'Treserve = 0.0 (Greedy method)'", "labelAlign": "left",
                            "encode": {"symbols": {"update": {"stroke": {"signal": "datum.value == 'r' ? '#7070ff' : datum.value == 'd' ? '#008000' : '#ff0000'"}, "fill": {"value": "transparent"}}}, "legend": {"update": {"strokeWidth": {"value": 1.5}}}}}}
                      },
                      "layer": [
                        {"transform": [{"filter": "datum.s == 'r'"}], "mark": {"type": "line", "strokeWidth": 0.8}},
                        {"transform": [{"filter": "datum.s == 'd'"}], "mark": {"type": "line", "strokeWidth": 1.4}},
                        {"transform": [{"filter": "datum.s == 'g'"}], "mark": {"type": "line", "strokeWidth": 1.3}}
                      ]
                    }
                  ]
                },
                {
                  "title": {"text": "(b) Medium Traffic", "orient": "bottom", "anchor": "middle", "offset": 40, "font": "DejaVu Serif", "fontSize": 20, "fontWeight": "normal", "color": "black"},
                  "resolve": {"scale": {"color": "independent", "strokeDash": "independent"}, "legend": {"color": "independent", "strokeDash": "independent"}},
                  "vconcat": [
                    {
                      "width": 248, "height": 195,
                      "view": {"stroke": "black", "strokeWidth": 1},
                      "title": {"text": "Total Quality vs. Time", "font": "Liberation Sans", "fontSize": 6.5, "fontWeight": "normal", "offset": 0, "anchor": "middle"},
                      "data": {"name": "medium"},
                      "encoding": {
                        "x": {"field": "t", "type": "quantitative", "scale": {"domain": [0, 1400], "nice": false, "zero": false}, "axis": {"title": "Time", "values": [0, 200, 400, 600, 800, 1000, 1200, 1400], "format": "d"}},
                        "y": {"field": "q", "type": "quantitative", "scale": {"domain": [0, 1.2], "nice": false}, "axis": {"title": "Current Total Quality", "values": [0, 0.2, 0.4, 0.6, 0.8, 1, 1.2], "format": "~g"}},
                        "color": {"field": "s", "type": "nominal", "scale": {"domain": ["r", "d", "g"], "range": ["#7070ff", "#008000", "#ff0000"]},
                          "legend": {"labelExpr": "datum.value == 'r' ? 'Treserve = 0.3 (RWR mode)' : datum.value == 'd' ? 'Treserve = 0.3 (DRA mode)' : 'Treserve = 0.0 (Greedy method)'", "labelAlign": "left",
                            "encode": {"symbols": {"update": {"stroke": {"signal": "datum.value == 'r' ? '#7070ff' : datum.value == 'd' ? '#008000' : '#ff0000'"}, "fill": {"value": "transparent"}}}, "legend": {"update": {"strokeWidth": {"value": 1.5}}}}}},
                        "strokeDash": {"field": "s", "type": "nominal", "scale": {"domain": ["r", "d", "g"], "range": [[1, 2], [1, 0], [4, 3]]},
                          "legend": {"labelExpr": "datum.value == 'r' ? 'Treserve = 0.3 (RWR mode)' : datum.value == 'd' ? 'Treserve = 0.3 (DRA mode)' : 'Treserve = 0.0 (Greedy method)'", "labelAlign": "left",
                            "encode": {"symbols": {"update": {"stroke": {"signal": "datum.value == 'r' ? '#7070ff' : datum.value == 'd' ? '#008000' : '#ff0000'"}, "fill": {"value": "transparent"}}}, "legend": {"update": {"strokeWidth": {"value": 1.5}}}}}}
                      },
                      "layer": [
                        {"transform": [{"filter": "datum.s == 'r'"}], "mark": {"type": "line", "strokeWidth": 0.8}},
                        {"transform": [{"filter": "datum.s == 'd'"}], "mark": {"type": "line", "strokeWidth": 1.4}},
                        {"transform": [{"filter": "datum.s == 'g'"}], "mark": {"type": "line", "strokeWidth": 1.3}}
                      ]
                    }
                  ]
                }
              ]
            }
          ]
        },
        {
          "width": 494, "height": 65,
          "data": {"values": [{"a": "Figure 3:", "b": "Total Quality over Time"}]},
          "encoding": {"y": {"datum": 0, "type": "quantitative", "scale": {"domain": [0, 1]}, "axis": null}},
          "layer": [
            {"mark": {"type": "text", "align": "right", "baseline": "alphabetic", "font": "DejaVu Serif", "fontSize": 25, "color": "black"}, "encoding": {"text": {"field": "a"}}},
            {"mark": {"type": "text", "align": "left", "baseline": "alphabetic", "font": "DejaVu Serif", "fontSize": 20.4, "color": "black", "dx": 5}, "encoding": {"text": {"field": "b"}}}
          ]
        }
      ]
    }
  ]
}
